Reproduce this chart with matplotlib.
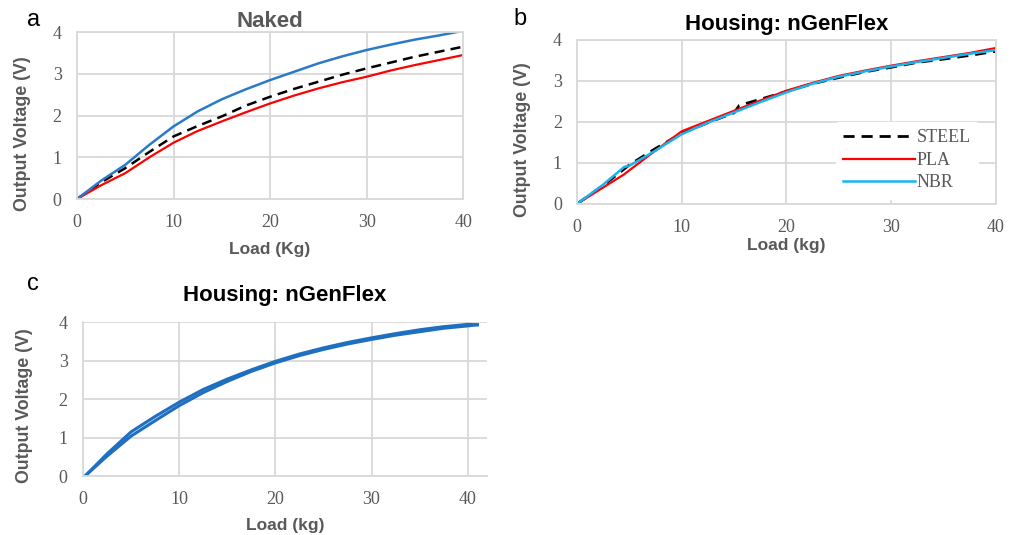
import matplotlib.pyplot as plt

# ---- panel a: Naked
load_a = [0, 2.5, 5, 7.5, 10, 12.5, 15, 17.5, 20, 22.5, 25, 27.5, 30, 32.5, 35, 37.5, 40]
steel_a = [0, 0.40, 0.74, 1.13, 1.50, 1.75, 1.98, 2.24, 2.45, 2.64, 2.81, 2.98, 3.13, 3.27, 3.41, 3.53, 3.65]
pla_a = [0, 0.33, 0.62, 1.00, 1.35, 1.63, 1.86, 2.08, 2.29, 2.48, 2.65, 2.80, 2.93, 3.08, 3.21, 3.33, 3.45]
nbr_a = [0, 0.44, 0.82, 1.30, 1.74, 2.10, 2.39, 2.63, 2.85, 3.05, 3.25, 3.42, 3.57, 3.70, 3.82, 3.92, 4.03]

# ---- panel b: Housing nGenFlex, three materials
load_b = [0, 2.5, 4.5, 5, 7.5, 10, 12.5, 15, 15.5, 17.5, 20, 22.5, 25, 27.5, 30, 32.5, 35, 37.5, 40]
steel_b = [0, 0.45, 0.85, 0.95, 1.35, 1.72, 1.98, 2.22, 2.40, 2.55, 2.74, 2.93, 3.08, 3.22, 3.33, 3.45, 3.53, 3.62, 3.72]
pla_b = [0, 0.40, 0.72, 0.82, 1.30, 1.77, 2.02, 2.27, 2.32, 2.52, 2.76, 2.95, 3.12, 3.25, 3.37, 3.48, 3.58, 3.68, 3.80]
nbr_b = [0, 0.47, 0.90, 0.93, 1.30, 1.70, 1.98, 2.23, 2.28, 2.48, 2.72, 2.93, 3.10, 3.23, 3.35, 3.46, 3.56, 3.66, 3.75]

# ---- panel c: loading / unloading loop
load_up = [0.2, 2.5, 5, 7.5, 10, 12.5, 15, 17.5, 20, 22.5, 25, 27.5, 30, 32.5, 35, 37.5, 40, 41]
volt_up = [0, 0.58, 1.15, 1.55, 1.92, 2.25, 2.52, 2.76, 2.98, 3.17, 3.33, 3.47, 3.59, 3.70, 3.80, 3.88, 3.94, 3.93]
load_down = [41, 40, 37.5, 35, 32.5, 30, 27.5, 25, 22.5, 20, 17.5, 15, 12.5, 10, 7.5, 5, 2.5, 0.2]
volt_down = [3.93, 3.90, 3.84, 3.75, 3.66, 3.55, 3.43, 3.29, 3.13, 2.94, 2.72, 2.46, 2.17, 1.83, 1.44, 1.04, 0.52, 0]

grid_col = '#d9d9d9'
lab_col = '#595959'
tick_font = 'Liberation Serif'
lab_font = 'Liberation Sans'

fig = plt.figure(figsize=(10.16, 5.35), dpi=100)


def style(ax, xmax, ylab_xy):
    ax.set_xlim(0, xmax)
    ax.set_ylim(0, 4)
    ax.set_xticks([0, 10, 20, 30, 40])
    ax.set_yticks([0, 1, 2, 3, 4])
    ax.grid(True, color=grid_col, lw=1.3)
    ax.set_axisbelow(True)
    for s in ax.spines.values():
        s.set_color(grid_col)
        s.set_linewidth(1.3)
    ax.tick_params(axis='x', length=0, labelsize=13, labelcolor=lab_col, pad=11)
    ax.tick_params(axis='y', length=0, labelsize=13, labelcolor=lab_col, pad=11)
    for t in ax.get_xticklabels() + ax.get_yticklabels():
        t.set_fontfamily(tick_font)
    ax.set_ylabel('Output Voltage (V)', fontsize=12.8, fontweight='bold',
                  color=lab_col, family=lab_font)
    ax.yaxis.set_label_coords(*ylab_xy)


# panel a
ax1 = fig.add_axes([0.0758, 0.628, 0.380, 0.312])
ax1.plot(load_a, steel_a, color='black', lw=1.8, ls=(0, (4, 2.5)))
ax1.plot(load_a, pla_a, color='#ff0000', lw=1.6)
ax1.plot(load_a, nbr_a, color='#2a7ac8', lw=1.8)
style(ax1, 40, (-0.119, 0.39))
ax1.set_xlabel('Load (Kg)', fontsize=12.5, fontweight='bold', color=lab_col,
               family=lab_font, labelpad=8)
ax1.set_title('Naked', fontsize=16, fontweight='bold', color=lab_col,
              family=lab_font, pad=3)
fig.text(0.027, 0.963, 'a', fontsize=17, family=lab_font, va='center')

# panel b
ax2 = fig.add_axes([0.568, 0.619, 0.412, 0.3065])
ax2.plot(load_b, steel_b, color='black', lw=2, ls=(0, (4, 2.5)), label='STEEL')
ax2.plot(load_b, pla_b, color='#ff0000', lw=1.6, label='PLA')
ax2.plot(load_b, nbr_b, color='#19b4f0', lw=1.8, label='NBR')
style(ax2, 40, (-0.11, 0.39))
ax2.set_xlabel('Load (kg)', fontsize=12.5, fontweight='bold', color=lab_col,
               family=lab_font, labelpad=1)
ax2.set_title('Housing: nGenFlex', fontsize=16, fontweight='bold', color='black',
              family=lab_font, pad=7)
leg = ax2.legend(loc='center right', bbox_to_anchor=(0.98, 0.265), frameon=True,
                 framealpha=1, edgecolor='white', handlelength=4.0,
                 handletextpad=0.1, labelspacing=0.3, borderpad=0.4,
                 prop={'family': tick_font, 'size': 13})
for t in leg.get_texts():
    t.set_color(lab_col)
fig.text(0.505, 0.965, 'b', fontsize=17, family=lab_font, va='center')

# panel c
ax3 = fig.add_axes([0.0817, 0.110, 0.3976, 0.288])
ax3.plot(load_up, volt_up, color='#1f6fc0', lw=2.2)
ax3.plot(load_down, volt_down, color='#1f6fc0', lw=2.2)
style(ax3, 42, (-0.124, 0.458))
ax3.spines['top'].set_visible(False)
ax3.spines['right'].set_visible(False)
ax3.set_xlabel('Load (kg)', fontsize=12.5, fontweight='bold', color=lab_col,
               family=lab_font, labelpad=7)
ax3.set_title('Housing: nGenFlex', fontsize=16, fontweight='bold', color='black',
              family=lab_font, pad=15)
fig.text(0.027, 0.47, 'c', fontsize=17, family=lab_font, va='center')

plt.savefig('out.png', dpi=100)
